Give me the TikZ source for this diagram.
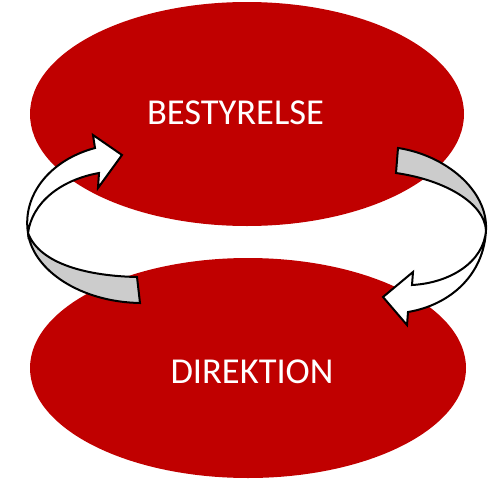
\documentclass[tikz,border=0pt]{standalone}
\usepackage{fontspec}
\setmainfont{Carlito}
\usetikzlibrary{shapes.geometric}
\definecolor{boardred}{RGB}{192,0,0}
\definecolor{backgray}{RGB}{204,204,204}
\begin{document}
\begin{tikzpicture}[x=1pt,y=-1pt,
  blob/.style={ellipse,fill=boardred,draw=none,inner sep=0pt},
  lbl/.style={text=white,font=\fontsize{36.5}{42}\selectfont,inner sep=0pt,anchor=center},
  band/.style={draw=black,line width=2pt,line join=miter},
]
\useasboundingbox (0,0) rectangle (488,480);
\node[blob,minimum width=434pt,minimum height=224pt] (top) at (247,114) {};
\node[blob,minimum width=436pt,minimum height=220pt] (bot) at (248,368) {};
\node[lbl] (tlabel) at (235.5,112.5) {BESTYRELSE};
\node[lbl] (blabel) at (252,372) {DIREKTION};
% left arrow
\coordinate (lt) at (28,233);
\fill[backgray] (lt) .. controls (40,265) and (90,276) .. (137,277) -- (140,303)
   .. controls (80,302) and (33,270) .. (lt) -- cycle;
\draw[band] (lt) .. controls (40,265) and (90,276) .. (137,277) -- (140,303)
   .. controls (80,302) and (33,270) .. (lt);
\draw[band,fill=white] (95,148) .. controls (50,160) and (22,195) .. (lt)
   .. controls (32,203) and (60,180) .. (99,173) -- (98,188) -- (122,155) -- (93,135) -- cycle;
% right arrow
\coordinate (rt) at (486,230);
\draw[band,fill=backgray] (398,148) .. controls (445,155) and (488,190) .. (rt)
   .. controls (484,203) and (445,180) .. (396,173) -- cycle;
\draw[band,fill=white] (rt) .. controls (484,275) and (450,305) .. (408,312)
   -- (407,325) -- (383,297) -- (413,272) -- (412,285)
   .. controls (450,283) and (484,262) .. (rt) -- cycle;
\end{tikzpicture}
\end{document}
